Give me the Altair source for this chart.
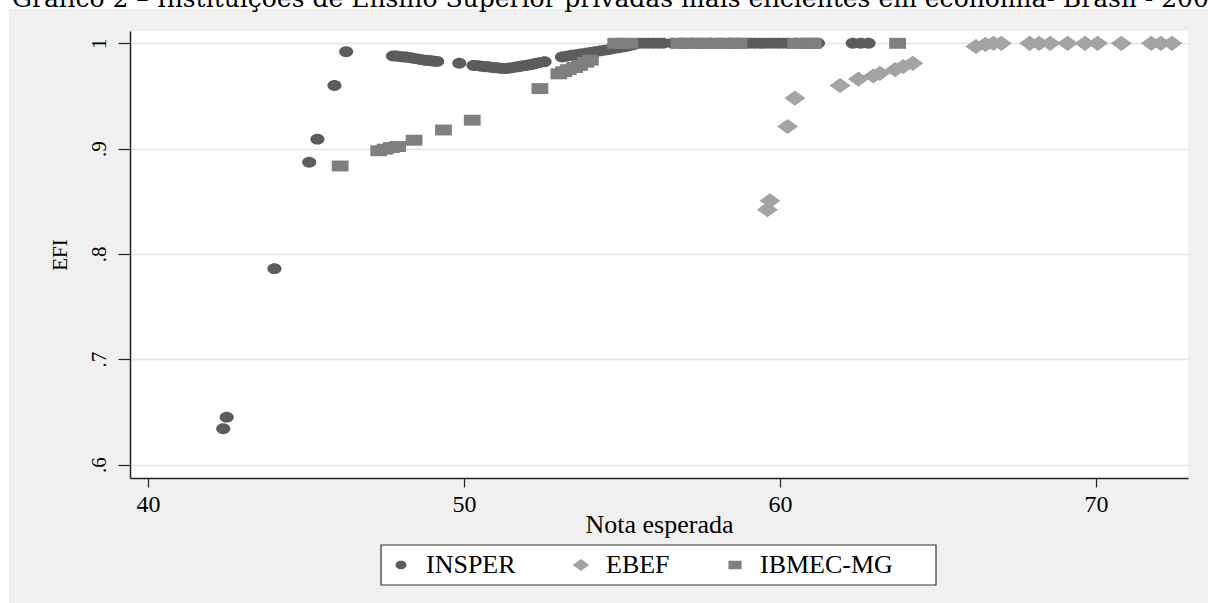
import altair as alt
import pandas as pd

# ---------------- data ----------------
series = ["INSPER", "EBEF", "IBMEC-MG"]

insper_x = [42.38, 42.49, 44.0, 45.1, 45.36, 45.9, 46.27,
            47.75, 47.85, 47.95, 48.05, 48.15, 48.25, 48.35, 48.45, 48.55, 48.65, 48.75, 48.85, 48.95, 49.05, 49.15,
            49.85,
            50.3, 50.4, 50.5, 50.6, 50.7, 50.8, 50.9, 51.0, 51.1, 51.2, 51.3, 51.4, 51.5, 51.6, 51.7, 51.8, 51.9,
            52.0, 52.1, 52.2, 52.3, 52.4, 52.55,
            53.1, 53.25, 53.4, 53.55, 53.7, 53.85, 54.0, 54.15, 54.3, 54.45, 54.6, 54.75, 54.9, 55.05, 55.2, 55.35,
            55.55, 55.7, 55.85, 56.0, 56.15, 56.3, 56.6, 56.9, 57.2, 57.5, 57.8, 58.1, 58.4, 58.7,
            58.9, 59.05, 59.2, 59.35, 59.5, 59.65, 59.8, 59.95, 60.1, 60.25, 60.5, 60.8, 61.05, 61.2,
            62.3, 62.55, 62.8]
insper_y = [0.634, 0.645, 0.786, 0.887, 0.909, 0.960, 0.992,
            0.988, 0.988, 0.9875, 0.987, 0.987, 0.9865, 0.986, 0.9855, 0.985, 0.9845, 0.984, 0.9838, 0.9835, 0.983, 0.9828,
            0.981,
            0.979, 0.9788, 0.9785, 0.978, 0.9778, 0.9775, 0.977, 0.9768, 0.9765, 0.9762, 0.976, 0.9763, 0.9767, 0.9772,
            0.9777, 0.9782, 0.9787,
            0.9792, 0.9797, 0.9803, 0.981, 0.9817, 0.9825,
            0.987, 0.9878, 0.9886, 0.9893, 0.990, 0.9907, 0.9914, 0.9921, 0.9928, 0.9935, 0.9942, 0.9950, 0.9958, 0.9966,
            0.9975, 0.9985,
            1.0, 1.0, 1.0, 1.0, 1.0, 1.0, 1.0, 1.0, 1.0, 1.0, 1.0, 1.0, 1.0, 1.0,
            1.0, 1.0, 1.0, 1.0, 1.0, 1.0, 1.0, 1.0, 1.0, 1.0, 1.0, 1.0, 1.0, 1.0,
            1.0, 1.0, 1.0]

ebef_x = [59.6, 59.68, 60.24, 60.47, 61.9, 62.48, 62.95, 63.16, 63.64, 63.9, 64.2,
          66.2, 66.5, 66.75, 67.0, 67.9, 68.2, 68.55, 69.1, 69.65, 70.05, 70.8, 71.75, 72.05, 72.4]
ebef_y = [0.842, 0.8505, 0.921, 0.948, 0.960, 0.966, 0.969, 0.9715, 0.975, 0.978, 0.981,
          0.997, 0.999, 1.0, 1.0, 1.0, 1.0, 1.0, 1.0, 1.0, 1.0, 1.0, 1.0, 1.0, 1.0]

ibmec_x = [46.08, 47.3, 47.5, 47.7, 47.9, 48.42, 49.35, 50.26, 52.4,
           53.0, 53.15, 53.3, 53.5, 53.65, 53.85, 54.0,
           54.8, 55.0, 55.25,
           56.8, 57.0, 57.2, 57.4, 57.6, 57.8, 58.0, 58.2, 58.4, 58.6, 58.7,
           60.5, 60.7, 60.9, 61.05, 63.72]
ibmec_y = [0.8835, 0.898, 0.8995, 0.901, 0.902, 0.908, 0.9177, 0.927, 0.957,
           0.971, 0.973, 0.975, 0.977, 0.979, 0.982, 0.984,
           1.0, 1.0, 1.0,
           1.0, 1.0, 1.0, 1.0, 1.0, 1.0, 1.0, 1.0, 1.0, 1.0, 1.0,
           1.0, 1.0, 1.0, 1.0, 1.0]

x_ticks = [40, 50, 60, 70]
y_ticks = [0.6, 0.7, 0.8, 0.9, 1.0]
x_domain = [39.43, 72.91]
y_domain = [0.5872, 1.0117]

title_text = "Gráfico 2 – Instituições de Ensino Superior privadas mais eficientes em economia- Brasil - 2009"

colors = ["#5c5c5c", "#a3a3a3", "#7f7f7f"]
# stretched marker outlines (Stata export is widened horizontally)
ellipse = ("M-0.67,0C-0.67,-0.29,-0.37,-0.52,0,-0.52C0.37,-0.52,0.67,-0.29,0.67,0"
           "C0.67,0.29,0.37,0.52,0,0.52C-0.37,0.52,-0.67,0.29,-0.67,0Z")
diamond = "M-1,0L0,-0.72L1,0L0,0.72Z"
square = "M-0.8,-0.52L0.8,-0.52L0.8,0.52L-0.8,0.52Z"

rows = []
for name, xs, ys in zip(series, [insper_x, ebef_x, ibmec_x], [insper_y, ebef_y, ibmec_y]):
    for a, b in zip(xs, ys):
        rows.append({"nota": a, "efi": b, "ies": name})
df = pd.DataFrame(rows)

FONT = "Liberation Serif"
W, H = 1058, 447

points = alt.Chart(df).mark_point(filled=True, opacity=1, size=441, strokeWidth=0).encode(
    x=alt.X("nota:Q",
            scale=alt.Scale(domain=x_domain, nice=False, zero=False),
            axis=alt.Axis(values=x_ticks, grid=False, tickSize=9, tickWidth=1.2, tickColor="#222222",
                          domainColor="#222222", domainWidth=1.5,
                          labelFont=FONT, labelFontSize=24, labelColor="black", labelPadding=5,
                          title="Nota esperada", titleFont=FONT, titleFontSize=26, titleFontWeight="normal",
                          titleColor="black", titleY=33, titleBaseline="top")),
    y=alt.Y("efi:Q",
            scale=alt.Scale(domain=y_domain, nice=False, zero=False),
            axis=alt.Axis(values=y_ticks, grid=True, gridColor="#e4e4e4", gridWidth=1.5,
                          tickSize=12, tickWidth=1.2, tickColor="#222222",
                          domainColor="#222222", domainWidth=1.5,
                          labelExpr="datum.value == 1 ? '1' : replace(format(datum.value, '.1f'), '0.', '.')",
                          labelAngle=270, labelAlign="center", labelBaseline="alphabetic",
                          labelFont=FONT, labelFontSize=21, labelColor="black", labelPadding=13,
                          title="EFI", titleFont=FONT, titleFontSize=21, titleFontWeight="normal",
                          titleColor="black", titleAngle=270, titleAlign="center", titleBaseline="alphabetic",
                          titleX=-64, titleY=H / 2)),
    color=alt.Color("ies:N", scale=alt.Scale(domain=series, range=colors),
                    legend=alt.Legend(title=None, orient="none", legendX=251, legendY=514,
                                      direction="horizontal",
                                      padding=7, labelFont=FONT, labelFontSize=26, labelColor="black",
                                      symbolSize=270, labelOffset=12, columnPadding=52,
                                      symbolStrokeWidth=0, symbolOpacity=1)),
    shape=alt.Shape("ies:N", scale=alt.Scale(domain=series, range=[ellipse, diamond, square]), legend=None),
)

one = alt.Data(values=[{}])
top_strip = alt.Chart(one).mark_rect(color="white").encode(
    x=alt.value(-130), x2=alt.value(1078), y=alt.value(-31), y2=alt.value(-22))
left_strip = alt.Chart(one).mark_rect(color="white").encode(
    x=alt.value(-130), x2=alt.value(-121), y=alt.value(-31), y2=alt.value(572))
legend_box = alt.Chart(one).mark_rect(fill="white", stroke="#333333", strokeWidth=1.2).encode(
    x=alt.value(251), x2=alt.value(806), y=alt.value(514), y2=alt.value(554))
title = alt.Chart(one).mark_text(align="left", baseline="alphabetic", font="DejaVu Serif", fontSize=25,
                                 color="black").encode(
    x=alt.value(-118), y=alt.value(-24.5), text=alt.value(title_text))

chart = alt.layer(top_strip, left_strip, legend_box, title, points).properties(
    width=W, height=H,
    autosize=alt.AutoSizeParams(type="none"),
    padding={"left": 130, "top": 31, "right": 20, "bottom": 125},
    background="#f0f0f0",
).configure_view(fill="white", strokeWidth=0)

chart.save("out.html", embed_options={"renderer": "svg", "actions": False})
